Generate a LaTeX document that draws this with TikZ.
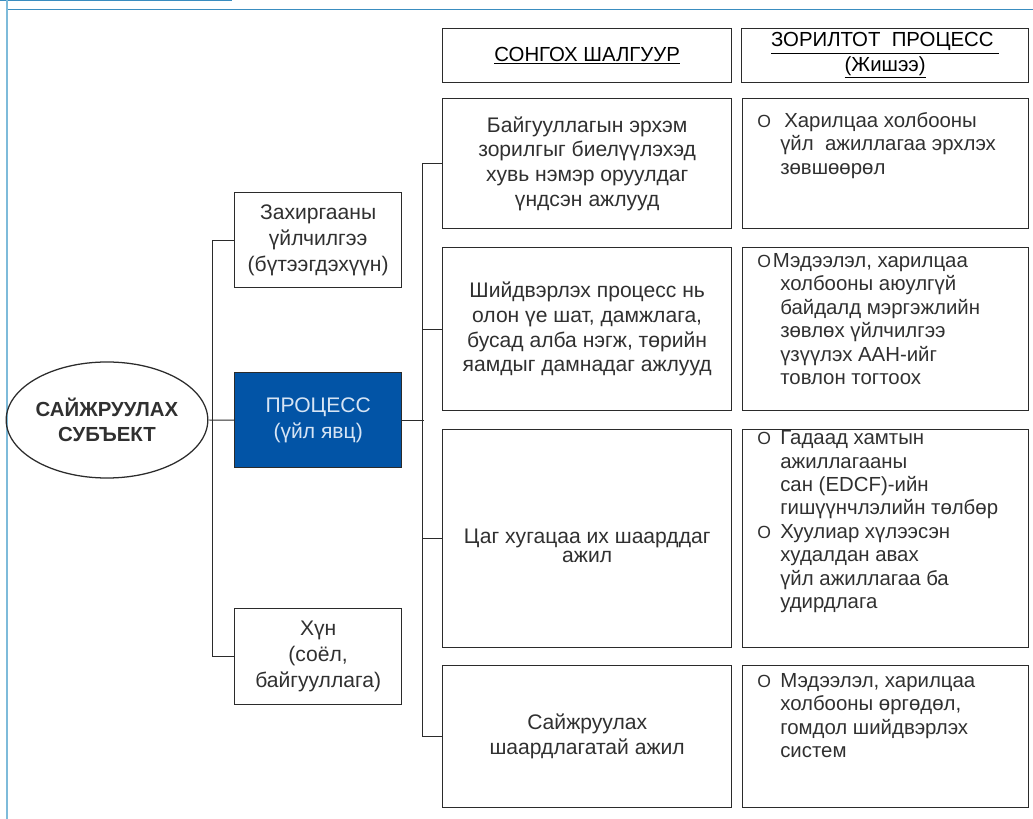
\documentclass[tikz,border=0pt]{standalone}
\usepackage{fontspec}
\setmainfont{Liberation Sans}
\usetikzlibrary{positioning,shapes.geometric}
\definecolor{FrameBlue}{HTML}{3A8DC0}
\definecolor{FrameLight}{HTML}{7EBBDA}
\definecolor{LineDark}{HTML}{2B2B2B}
\definecolor{TextGray}{HTML}{303030}
\definecolor{ProcBlue}{HTML}{0254A6}
\definecolor{ProcText}{HTML}{D6E4F4}
\newcommand{\resbul}[1][0.575cm]{\makebox[#1][l]{\fontsize{12.5}{12.5}\selectfont O}}
\newcommand{\resind}{\hspace*{0.575cm}}
\newcommand{\lowline}[1]{\raisebox{-0.175cm}[\height][\depth]{#1}}
\tikzset{
  plainbox/.style={draw=LineDark, line width=0.9pt, inner sep=0pt, anchor=north west,
    align=center, text=TextGray},
  headbox/.style={plainbox, minimum width=7.225cm, minimum height=1.35cm,
    font=\fontsize{14.5}{17.5}\selectfont, text=black},
  critbox/.style={plainbox, minimum width=7.225cm, font=\fontsize{15}{17.6}\selectfont},
  resbox/.style={plainbox, minimum width=7.15cm},
  restext/.style={anchor=north west, inner sep=0pt, align=left, text=TextGray,
    font=\fontsize{14.5}{16.7}\selectfont},
  leftbox/.style={plainbox, minimum width=4.175cm, minimum height=2.375cm,
    font=\fontsize{15}{18.5}\selectfont},
  conn/.style={draw=LineDark, line width=0.7pt},
}

\begin{document}
\begin{tikzpicture}[x=0.025cm, y=-0.025cm]
  \useasboundingbox (0,0) rectangle (1033,819);
  % page frame
  \draw[FrameBlue, line width=1.4pt] (0,0) -- (232,0);
  \draw[FrameBlue, line width=0.9pt] (7,9.5) -- (1033,9.5);
  \draw[FrameLight, line width=1.2pt] (7,0) -- (7,819);

  % headings
  \node[headbox] (head1) at (442,28) {\underline{СОНГОХ ШАЛГУУР}};
  \node[headbox, minimum width=7.175cm] (head2) at (741,28)
    {\underline{ЗОРИЛТОТ\ \ ПРОЦЕСС\ }\\\underline{(Жишээ)}};

  % left part
  \node[ellipse, draw=LineDark, line width=0.9pt, minimum width=4.325cm, minimum height=2.9cm,
    inner sep=0pt, align=center, text=TextGray, font=\bfseries\fontsize{14.5}{17.8}\selectfont]
    (subj) at (107,420) {САЙЖРУУЛАХ\\СУБЪЕКТ};
  \node[leftbox] (admin) at (234,192) {Захиргааны\\үйлчилгээ\\(бүтээгдэхүүн)};
  \node[leftbox, fill=ProcBlue, text=ProcText] (proc) at (234,372) {ПРОЦЕСС\\(үйл явц)};
  \node[leftbox, minimum height=2.4cm] (human) at (234,608) {Хүн\\(соёл,\\байгууллага)};

  % criteria
  \node[critbox, minimum height=3.25cm] (c1) at (442,98)
    {Байгууллагын эрхэм\\зорилгыг биелүүлэхэд\\хувь нэмэр оруулдаг\\үндсэн ажлууд};
  \node[critbox, minimum height=4.075cm] (c2) at (442,247)
    {Шийдвэрлэх процесс нь\\олон үе шат, дамжлага,\\бусад алба нэгж, төрийн\\яамдыг дамнадаг ажлууд};
  \node[critbox, minimum height=5.45cm] (c3) at (442,429)
    {\lowline{Цаг хугацаа их шаарддаг}\\[-4pt]\lowline{ажил}};
  \node[critbox, minimum height=3.55cm] (c4) at (442,665)
    {Сайжруулах\\шаардлагатай ажил};

  % target processes
  \node[resbox, minimum height=3.25cm] (r1) at (742,98) {};
  \node[resbox, minimum height=4.075cm] (r2) at (742,247) {};
  \node[resbox, minimum height=5.45cm] (r3) at (742,429) {};
  \node[resbox, minimum height=3.55cm] (r4) at (742,665) {};
  \node[restext] (r1t) at ([xshift=0.375cm, yshift=-0.35cm]r1.north west)
    {\resbul[0.675cm]Харилцаа холбооны\\\resind үйл\ \ ажиллагаа эрхлэх\\\resind зөвшөөрөл};
  \node[restext] (r2t) at ([xshift=0.375cm, yshift=-0.15cm]r2.north west)
    {\resbul[0.39cm]Мэдээлэл, харилцаа\\\resind холбооны аюулгүй\\\resind байдалд мэргэжлийн\\
     \resind зөвлөх үйлчилгээ\\\resind үзүүлэх ААН-ийг\\\resind товлон тогтоох};
  \node[restext] (r3t) at ([xshift=0.375cm, yshift=-0.03cm]r3.north west)
    {\resbul Гадаад хамтын\\\resind ажиллагааны\\\resind сан (EDCF)-ийн\\
     \resind гишүүнчлэлийн төлбөр\\\resbul Хуулиар хүлээсэн\\\resind худалдан авах\\
     \resind үйл ажиллагаа ба\\\resind удирдлага};
  \node[restext] (r4t) at ([xshift=0.375cm, yshift=-0.2cm]r4.north west)
    {\resbul Мэдээлэл, харилцаа\\\resind холбооны өргөдөл,\\\resind гомдол шийдвэрлэх\\\resind систем};

  % connectors
  \draw[conn] (subj.east) -- (proc.west);
  \draw[conn] (admin.west) -- ++(-0.55cm,0) |- (human.west);
  \draw[conn] (proc.east) -- ++(0.55cm,0);
  \draw[conn] (c1.west) -- ++(-0.5cm,0) |- (c4.west);
  \foreach \n in {c2,c3} \draw[conn] (\n.west) -- ++(-0.5cm,0);
\end{tikzpicture}
\end{document}
